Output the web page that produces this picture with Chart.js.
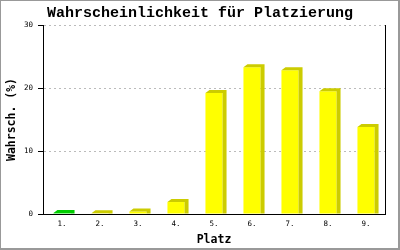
<!DOCTYPE html>
<html>
<head>
<meta charset="utf-8">
<script src="https://cdn.jsdelivr.net/npm/chart.js@4"></script>
<style>
html,body{margin:0;padding:0;background:#fff;}
canvas{display:block;}
</style>
</head>
<body>
<canvas id="c" width="400" height="250"></canvas>
<script>
const TITLE = 'Wahrscheinlichkeit für Platzierung';
const X_TITLE = 'Platz';
const Y_TITLE = 'Wahrsch. (%)';
const categories = ['1.', '2.', '3.', '4.', '5.', '6.', '7.', '8.', '9.'];
const values = [0.15, 0.1, 0.4, 1.9, 19.2, 23.3, 22.8, 19.5, 13.8];
const yTicks = [0, 10, 20, 30];

const FONT = "'DejaVu Sans Mono', 'Liberation Mono', monospace";
const TFONT = "'Liberation Mono', 'DejaVu Sans Mono', monospace";
const frontColors = categories.map((c, i) => i === 0 ? '#00ee00' : '#ffff00');
const sideColors = categories.map((c, i) => i === 0 ? '#00cc00' : '#cccc00');

const bars3d = {
  id: 'bars3d',
  afterDatasetsDraw(chart) {
    const ctx = chart.ctx;
    const meta = chart.getDatasetMeta(0);
    const dx = 4, dy = 3;
    ctx.save();
    meta.data.forEach((bar, i) => {
      const p = bar.getProps(['x', 'y', 'base', 'width'], true);
      const l = p.x - p.width / 2, r = p.x + p.width / 2;
      ctx.fillStyle = sideColors[i];
      ctx.beginPath();
      ctx.moveTo(l, p.y);
      ctx.lineTo(l + dx, p.y - dy);
      ctx.lineTo(r + dx, p.y - dy);
      ctx.lineTo(r + dx, p.base);
      ctx.lineTo(r, p.base);
      ctx.lineTo(r, p.y);
      ctx.closePath();
      ctx.fill();
    });
    ctx.restore();
  }
};

const frame = {
  id: 'frame',
  beforeDraw(chart) {
    const ctx = chart.ctx;
    ctx.save();
    ctx.fillStyle = '#fff';
    ctx.fillRect(0, 0, 400, 250);
    ctx.restore();
  },
  afterDraw(chart) {
    const ctx = chart.ctx, a = chart.chartArea;
    ctx.save();
    ctx.strokeStyle = '#000';
    ctx.lineWidth = 1;
    ctx.beginPath();
    ctx.moveTo(Math.round(a.right) + 0.5, a.top);
    ctx.lineTo(Math.round(a.right) + 0.5, a.bottom);
    ctx.stroke();
    ctx.fillStyle = '#999';
    ctx.fillRect(0, 0, 400, 1);
    ctx.fillRect(0, 0, 1, 250);
    ctx.fillRect(398, 0, 2, 250);
    ctx.fillRect(0, 248, 400, 2);
    ctx.restore();
  }
};

new Chart(document.getElementById('c'), {
  type: 'bar',
  data: {
    labels: categories,
    datasets: [{
      data: values,
      backgroundColor: frontColors,
      borderWidth: 0,
      barPercentage: 0.45,
      categoryPercentage: 1.0
    }]
  },
  options: {
    responsive: false,
    animation: false,
    devicePixelRatio: 1,
    layout: { padding: 0 },
    plugins: {
      legend: { display: false },
      tooltip: { enabled: false },
      title: {
        display: true,
        text: TITLE,
        color: '#000',
        font: { family: TFONT, size: 15, weight: 'bold', lineHeight: 1.2 },
        padding: { top: 4, bottom: 3 }
      }
    },
    scales: {
      x: {
        grid: { display: false, drawTicks: false },
        border: { display: true, color: '#000', width: 1 },
        ticks: { color: '#000', font: { family: FONT, size: 7.5 }, padding: 6, maxRotation: 0 },
        title: {
          display: true, text: X_TITLE, color: '#000',
          font: { family: FONT, size: 11.5, weight: 'bold', lineHeight: 1.2 },
          padding: { top: 3, bottom: 3 }
        },
        afterFit(scale) { scale.height = 36; }
      },
      y: {
        min: 0, max: 30,
        afterBuildTicks(scale) { scale.ticks = yTicks.map(v => ({ value: v })); },
        grid: {
          color: (c) => c.tick && c.tick.value === 0 ? 'rgba(0,0,0,0)' : '#bbbbbb',
          tickColor: '#000',
          tickLength: 5,
          drawTicks: true
        },
        border: { display: true, color: '#000', width: 1, dash: [2, 3] },
        ticks: { color: '#000', font: { family: FONT, size: 7.5 }, padding: 5 },
        title: {
          display: true, text: Y_TITLE, color: '#000',
          font: { family: FONT, size: 11.5, weight: 'bold', lineHeight: 1.2 },
          padding: { top: 5, bottom: 5 }
        },
        afterFit(scale) { scale.width = 43; }
      },
      yRight: {
        position: 'right',
        display: true,
        min: 0, max: 30,
        grid: { display: false, drawTicks: false },
        border: { display: false },
        ticks: { display: false },
        afterFit(scale) { scale.width = 15; }
      }
    }
  },
  plugins: [frame, bars3d]
});
</script>
</body>
</html>
